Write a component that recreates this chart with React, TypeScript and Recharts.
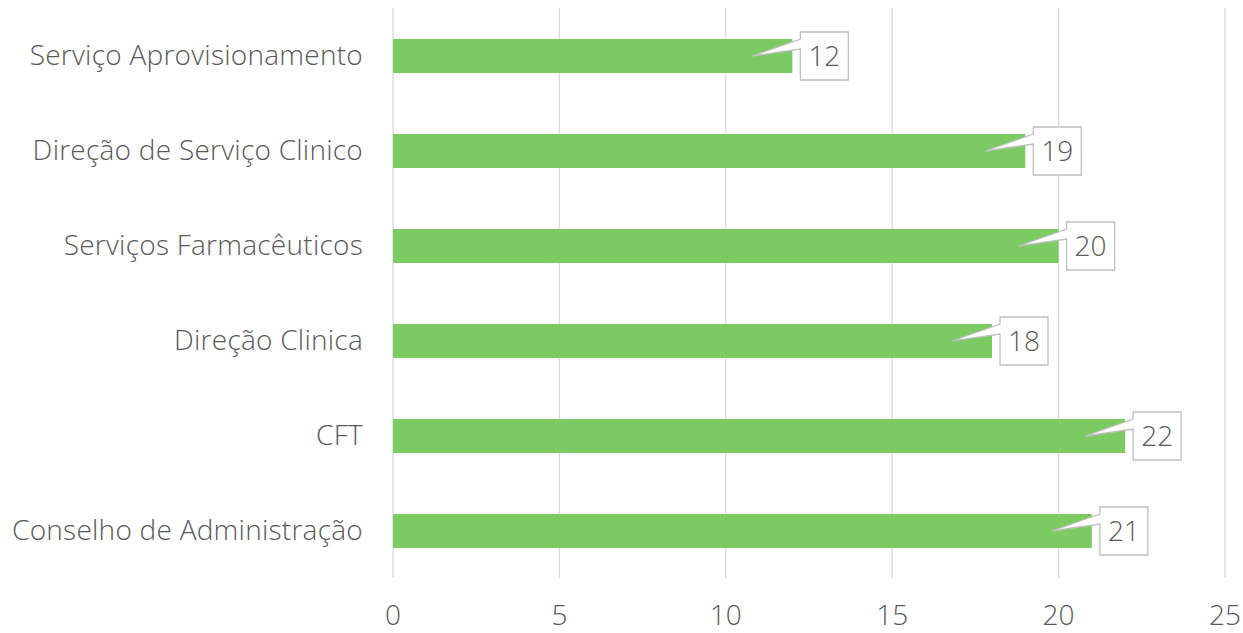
import { BarChart, Bar, XAxis, YAxis, CartesianGrid, LabelList } from "recharts";

const categories = [
  "Serviço Aprovisionamento",
  "Direção de Serviço Clinico",
  "Serviços Farmacêuticos",
  "Direção Clinica",
  "CFT",
  "Conselho de Administração",
];
const values = [12, 19, 20, 18, 22, 21];
const xTicks = [0, 5, 10, 15, 20, 25];

const data = categories.map((name, i) => ({ name, value: values[i] }));

const FONT = "'Open Sans', 'Noto Sans', sans-serif";
const TEXT = "#595959";
const SIZE = 28;

function YTick({ x, y, payload }: any) {
  return (
    <text x={x - 22} y={y} dy={9} textAnchor="end" fontSize={SIZE} fontFamily={FONT} fontWeight={300} letterSpacing={0.25} fill={TEXT}>
      {payload.value}
    </text>
  );
}

function XTick({ x, y, payload }: any) {
  return (
    <text x={x} y={y} dy={39} textAnchor="middle" fontSize={SIZE} fontFamily={FONT} fontWeight={300} fill={TEXT}>
      {payload.value}
    </text>
  );
}

function Callout({ x, y, width, height, value }: any) {
  const end = x + width;
  const cy = y + height / 2;
  const bx = end + 8;
  const bw = 48;
  const top = cy - 24;
  const bottom = cy + 24;
  const tip = end - 40;
  const d = `M${bx},${top} L${bx + bw},${top} L${bx + bw},${bottom} L${bx},${bottom} L${bx},${cy - 7} L${tip},${cy} L${bx},${cy - 17} Z`;
  return (
    <g>
      <path d={d} fill="#ffffff" stroke="#BFBFBF" strokeWidth={1.3} />
      <text x={bx + bw / 2} y={cy} dy={10} textAnchor="middle" fontSize={SIZE} fontFamily={FONT} fontWeight={300} fill={TEXT}>
        {value}
      </text>
    </g>
  );
}

export default function App() {
  return (
    <div style={{ position: "absolute", left: 0, top: 0, background: "#fff" }}>
      <BarChart
        width={1243}
        height={633}
        data={data}
        layout="vertical"
        margin={{ top: 8, right: 18, bottom: 0, left: 0 }}
        barCategoryGap={0}
      >
        <CartesianGrid horizontal={false} stroke="#D9D9D9" strokeWidth={1.3} />
        <XAxis
          type="number"
          domain={[0, 25]}
          ticks={xTicks}
          axisLine={false}
          tickLine={false}
          height={55}
          tick={<XTick />}
          interval={0}
        />
        <YAxis
          type="category"
          dataKey="name"
          width={393}
          axisLine={false}
          tickLine={false}
          tick={<YTick />}
          interval={0}
        />
        <Bar dataKey="value" fill="#7CCB62" barSize={34} isAnimationActive={false}>
          <LabelList dataKey="value" content={<Callout />} />
        </Bar>
      </BarChart>
    </div>
  );
}
